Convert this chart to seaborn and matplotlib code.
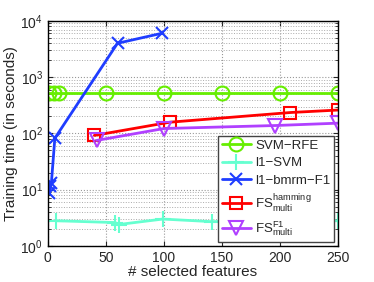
import matplotlib
matplotlib.use("Agg")
import matplotlib.pyplot as plt
import seaborn as sns
from matplotlib.ticker import LogLocator, NullFormatter

# data
svm_rfe_x = [1, 5, 10, 50, 100, 150, 200, 250]
svm_rfe_y = [520, 520, 520, 520, 520, 520, 520, 520]

l1_svm_x = [7, 58, 61, 99, 141, 250]
l1_svm_y = [2.8, 2.6, 2.4, 3.0, 2.7, 2.8]

l1_bmrm_x = [1, 2, 3, 6, 60, 98]
l1_bmrm_y = [8.6, 11.5, 13, 82, 4000, 6000]

fs_ham_x = [40, 105, 209, 250]
fs_ham_y = [92, 158, 235, 260]

fs_f1_x = [42, 100, 196, 250]
fs_f1_y = [75, 122, 138, 152]

sns.set_style("ticks")
plt.rcParams['font.family'] = ['Liberation Sans', 'DejaVu Sans']
plt.rcParams['mathtext.fontset'] = 'custom'
plt.rcParams['mathtext.rm'] = 'Liberation Sans'

fig = plt.figure(figsize=(3.74, 2.82), dpi=100)
ax = fig.add_axes([0.128, 0.128, 0.776, 0.798])

series = [
    (svm_rfe_x, svm_rfe_y, "SVM\u2212RFE", "#66ee00", "o", 10),
    (l1_svm_x, l1_svm_y, "l1\u2212SVM", "#66ffd0", "+", 11),
    (l1_bmrm_x, l1_bmrm_y, "l1\u2212bmrm\u2212F1", "#1f3dff", "x", 8),
    (fs_ham_x, fs_ham_y, r"FS$^{\rm hamming}_{\rm multi}$", "#ff0000", "s", 8),
    (fs_f1_x, fs_f1_y, r"FS$^{\rm F1}_{\rm multi}$", "#b040ff", "v", 10),
]

for xs, ys, name, col, mk, ms in series:
    sns.lineplot(x=xs, y=ys, ax=ax, color=col, marker=mk, markersize=ms,
                 markerfacecolor='none', markeredgecolor=col, markeredgewidth=1.5,
                 linewidth=2, label=name, sort=False, estimator=None)

ax.set_yscale('log')
ax.set_ylim(1, 1e4)
ax.set_xlim(0, 250)
ax.set_xticks([0, 50, 100, 150, 200, 250])
ax.yaxis.set_major_locator(LogLocator(base=10, numticks=10))
ax.yaxis.set_minor_locator(LogLocator(base=10, subs=range(2, 10), numticks=50))
ax.yaxis.set_minor_formatter(NullFormatter())
ax.grid(True, which='major', axis='both', linestyle=':', color='#999999', linewidth=0.8)
ax.grid(True, which='minor', axis='y', linestyle=':', color='#aaaaaa', linewidth=0.7)
ax.tick_params(axis='both', which='both', direction='in', top=True, right=True, labelsize=10)
for s in ax.spines.values():
    s.set_linewidth(1)
    s.set_color('black')

ax.set_xlabel("# selected features", fontsize=11, labelpad=0)
ax.set_ylabel("Training time (in seconds)", fontsize=11, labelpad=2)

leg = ax.legend(loc='lower right', fontsize=9.5, handlelength=2.2, frameon=True,
                fancybox=False, edgecolor='#444444', framealpha=1,
                borderaxespad=0.3, labelspacing=0.4, handletextpad=0.3,
                borderpad=0.3)
leg.get_frame().set_linewidth(1)

fig.savefig("out.png", dpi=100)
